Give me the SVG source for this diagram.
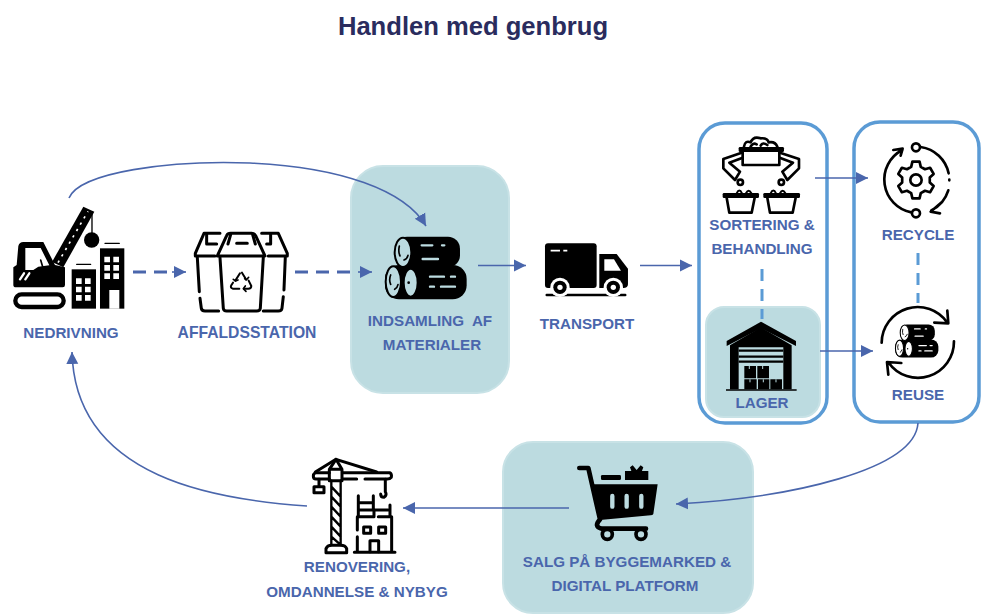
<svg xmlns="http://www.w3.org/2000/svg" width="985" height="616" viewBox="0 0 985 616">
<style>
text{font-family:"Liberation Sans",Arial,sans-serif;font-weight:700}
.t{font-size:15.200px;fill:#4a66ac;text-anchor:middle;white-space:pre}
.panel{fill:#bcdbe0;stroke:#c8e2e6;stroke-width:2}
.frame{fill:#fff;stroke:#5b9bd5;stroke-width:3.5}
.c{fill:none;stroke:#4a66ac;stroke-width:1.600}
.d{fill:none;stroke:#4a66ac;stroke-width:2.800;stroke-dasharray:13 8}
.l{fill:none;stroke:#5b9bd5;stroke-width:3;stroke-dasharray:12 8}
.ink{fill:none;stroke:#000;stroke-linecap:round;stroke-linejoin:round}
.k{fill:#000}
.w{fill:#fff}
.b{fill:#bcdbe0}
</style>
<defs>
<marker id="ah" markerUnits="userSpaceOnUse" markerWidth="13" markerHeight="14" refX="12" refY="7" orient="auto"><path d="M0,1L12,7L0,13Z" fill="#4a66ac"/></marker>
<!-- stacked timber, drawn around its own 0,0 -->
<g id="logs">
<rect x="165" y="230" width="195" height="92" rx="36" class="k"/>
<rect x="135" y="315" width="245" height="103" rx="42" class="k"/>
<ellipse cx="189" cy="277" rx="25" ry="44" fill="var(--hole)" stroke="#000" stroke-width="6"/>
<ellipse cx="160" cy="365" rx="23" ry="46" fill="var(--hole)" stroke="#000" stroke-width="6"/>
<ellipse cx="212" cy="368" rx="21" ry="42" fill="var(--hole)" stroke="#000" stroke-width="6"/>
<path d="M178,258q-4,18 2,30M192,300q10,-4 12,-14M152,345q-6,14 0,28M164,388q8,-4 10,-14" class="ink" stroke-width="5"/>
<circle cx="206" cy="368" r="4" class="k"/>
<g fill="none" stroke="var(--hole)" stroke-width="7" stroke-linecap="round">
<path d="M245,256h32M306,256h7M248,297h46M270,350h42M333,350h12M270,380h12M303,380h42"/>
</g>
</g>
</defs>

<text x="473" y="35" text-anchor="middle" font-size="25.600" fill="#2a2c5e">Handlen med genbrug</text>

<rect id="panel-indsamling" class="panel" x="351" y="166" width="158" height="227" rx="32"/>
<rect id="panel-salg" class="panel" x="503" y="442" width="250" height="171" rx="30"/>
<rect id="frame-sortering" class="frame" x="699" y="123" width="128" height="300" rx="26"/>
<rect id="frame-genbrug" class="frame" x="854" y="122" width="125" height="300" rx="26"/>
<rect id="panel-lager" class="panel" x="706" y="307" width="114" height="110" rx="18"/>

<g id="connectors">
<path class="c" marker-end="url(#ah)" d="M69,198C80,172 170,160 250,163C340,167 405,190 426,226"/>
<path class="d" d="M133,272H172"/><path class="c" marker-end="url(#ah)" d="M172,272H186"/>
<path class="d" d="M295,272H358"/><path class="c" marker-end="url(#ah)" d="M358,272H372"/>
<path class="c" marker-end="url(#ah)" d="M478,265.500H526"/>
<path class="c" marker-end="url(#ah)" d="M640,265.500H692"/>
<path class="c" marker-end="url(#ah)" d="M815,178H868"/>
<path class="c" marker-end="url(#ah)" d="M820,351H873"/>
<path class="l" d="M762,269V319"/>
<path class="l" d="M918,253V303"/>
<path class="c" marker-end="url(#ah)" d="M918,423C915,470 790,498 676,504"/>
<path class="c" marker-end="url(#ah)" d="M569,508H403"/>
<path class="c" marker-end="url(#ah)" d="M307,506C220,500 75,480 72,352"/>
</g>

<g id="nedrivning">
<g transform="translate(0,170) scale(.3333)">
<path class="k" d="M40,292L50,285L55,228Q58,216 70,216H130L165,285L195,292V345Q195,352 188,352H48Q40,352 40,345Z"/>
<path class="w" d="M76,234H122L148,286L115,290L100,300H76Z"/>
<path d="M122,270L128,290L148,296" class="ink" stroke-width="5"/>
<path d="M60,328L72,310M76,328L88,310" fill="none" stroke="#fff" stroke-width="7" stroke-linecap="round"/>
<rect x="46" y="373" width="145" height="38" rx="19" class="ink" stroke-width="13"/>
<path class="k" d="M156,276L250,110L283,125L190,292Z"/>
<path d="M174,278L264,124" fill="none" stroke="#fff" stroke-width="5" stroke-dasharray="7 15"/>
<path d="M276,125V195" class="ink" stroke-width="4"/>
<circle cx="275" cy="210" r="23" class="k"/>
<path d="M230,283H272M315,220H358" class="ink" stroke-width="4"/>
<rect x="215" y="298" width="73" height="118" class="k"/>
<rect x="300" y="235" width="73" height="181" class="k"/>
<path class="w" d="M228,325h17v17h-17zM255,325h17v17h-17zM228,350h17v17h-17zM255,350h17v17h-17zM228,375h17v17h-17zM255,375h17v17h-17zM313,260h17v17h-17zM340,260h17v17h-17zM313,285h17v17h-17zM340,285h17v17h-17zM313,310h17v17h-17zM340,310h17v17h-17zM328,360h30v56h-30z"/>
</g>
<text class="t" x="71" y="338">NEDRIVNING</text>
</g>

<g id="affaldsstation">
<g transform="translate(0,170) scale(.3333)" class="ink" stroke-width="9">
<path d="M652,258L680,197Q683,190 692,190H755Q763,190 767,197L795,258Z" fill="#fff"/>
<path d="M684,222L692,194M766,222L758,194M710,220H742"/>
<path d="M660,262L670,415Q671,423 680,423H770Q780,423 781,415L790,262"/>
<path d="M660,190H612L586,250V258H645M620,190V222H650"/>
<path d="M592,262L598,365M600,385L604,415Q605,423 615,423H656"/>
<path d="M785,190H835L862,250V258H805M812,190V222H800"/>
<path d="M856,262L852,360M850,380L846,415Q845,423 835,423H790"/>
<path d="M720,310L706,332M726,308L738,328M746,332L754,348Q754,356 745,356H732M718,356H698Q690,354 694,346L699,338" stroke-width="6"/>
<path d="M700,328L707,333L714,330M734,326L739,330L746,322M736,348L730,356L738,364" stroke-width="5"/>
</g>
<text class="t" x="247" y="338" style="font-size:15.700px">AFFALDSSTATION</text>
</g>

<g id="indsamling" style="--hole:#bcdbe0">
<use href="#logs" transform="translate(340,160) scale(.3333)"/>
<text class="t" x="430" y="326">INDSAMLING  AF</text>
<text class="t" x="432" y="350">MATERIALER</text>
</g>

<g id="transport">
<g transform="translate(340,160) scale(.3333)">
<rect x="615" y="250" width="155" height="134" rx="9" class="k"/>
<path class="k" d="M778,282H830L864,326V372Q864,384 850,384H778Z"/>
<path class="w" d="M793,298H822L843,332H793Z"/>
<path d="M632,272H660M670,272H682" stroke="#fff" stroke-width="5" fill="none"/>
<path d="M620,405H856" stroke="#000" stroke-width="7" stroke-linecap="round"/>
<circle cx="660" cy="382" r="29" class="w"/><circle cx="660" cy="382" r="20" class="k"/><circle cx="660" cy="382" r="8" class="w"/>
<circle cx="820" cy="382" r="29" class="w"/><circle cx="820" cy="382" r="20" class="k"/><circle cx="820" cy="382" r="8" class="w"/>
</g>
<text class="t" x="587" y="329">TRANSPORT</text>
</g>

<g id="sortering">
<g transform="translate(690,115) scale(.3333)" class="ink" stroke-width="8">
<path d="M150,100H278V107H150Z" fill="#000"/>
<path d="M158,108V150H268V108"/>
<path d="M162,95Q165,75 182,82Q190,62 212,70Q232,68 236,82Q255,78 262,95"/>
<path d="M182,95Q188,82 200,88M212,92Q218,80 232,90"/>
<path d="M155,113L100,132V160L135,195L150,170L118,143L158,128"/>
<path d="M270,113L327,132V160L292,195L277,170L309,143L269,128"/>
<circle cx="151" cy="202" r="8"/><circle cx="274" cy="202" r="8"/>
<path d="M102,238H203V245H102Z" fill="#000"/><path d="M224,238H326V245H224Z" fill="#000"/>
<path d="M110,248L118,293H185L194,248M232,248L240,293H308L317,248"/>
<path d="M140,235Q148,218 156,235M168,235Q176,220 184,235M242,235Q250,218 258,235M270,235Q278,220 286,235" stroke-width="6"/>
</g>
<text class="t" x="762" y="230">SORTERING &amp;</text>
<text class="t" x="762" y="254">BEHANDLING</text>
</g>

<g id="recycle">
<g transform="translate(690,115) scale(.3333)" class="ink" stroke-width="8">
<path d="M663.600,155.500L667.300,140H688.700L692.400,155.500L705,162.800L720.300,158.300L731,176.800L719.400,187.700V202.300L731,213.200L720.300,231.700L705,227.200L692.400,234.500L688.700,250H667.300L663.600,234.500L651,227.200L635.700,231.700L625,213.200L636.600,202.300V187.700L625,176.800L635.700,158.300L651,162.800Z"/>
<circle cx="678" cy="195" r="17"/>
<circle cx="678" cy="97" r="12"/><circle cx="678" cy="295" r="12"/>
<path d="M692,96A100,100 0 0 1 776,175M778,196V194M775,226A100,100 0 0 1 724,286M755,262L722,290L750,295"/>
<path d="M664,292A100,100 0 0 1 637,105M610,105L638,101L632,122"/>
</g>
<text class="t" x="918" y="240">RECYCLE</text>
</g>

<g id="lager">
<g transform="translate(690,270) scale(.3333)">
<path class="k" d="M120,226L213,172L305,226V358H120Z"/>
<path class="k" d="M110,213L213,155L318,213V228L213,175L110,228Z"/>
<path class="b" d="M146,232H280V358H146Z"/>
<path d="M146,242H280M146,260H280M146,275H280" stroke="#000" stroke-width="7"/>
<path class="k" d="M163,288H198V325H163ZM202,288H237V325H202ZM163,328H200V358H163ZM204,328H238V358H204ZM241,328H276V358H241Z"/>
<path d="M178,288v9M218,288v9M180,328v9M220,328v9M258,328v9" stroke="#bcdbe0" stroke-width="3"/>
<path d="M108,360H320" stroke="#000" stroke-width="5"/>
</g>
<text class="t" x="762" y="408">LAGER</text>
</g>

<g id="reuse" style="--hole:#fff">
<g transform="translate(690,270) scale(.3333)" class="ink" stroke-width="8">
<path d="M575,218A108,108 0 0 1 772,158M772,122L775,160L733,158"/>
<path d="M792,214A108,108 0 0 1 596,278M595,314L591,276L634,279"/>
</g>
<use href="#logs" transform="translate(690,270) scale(.3333) translate(680,213) scale(.53) translate(-257,-324)"/>
<text class="t" x="918" y="400">REUSE</text>
</g>

<g id="salg">
<g transform="translate(500,440) scale(.3333)">
<path class="ink" d="M238,84H265L300,238Q280,260 305,266H438" stroke-width="14"/>
<path class="k" d="M280,133H473L460,222Q458,226 452,226L300,240Z"/>
<path d="M337,168V200M380,168V200M424,168V200" stroke="#bcdbe0" stroke-width="13" stroke-linecap="round"/>
<circle cx="322" cy="283" r="15" fill="#bcdbe0" stroke="#000" stroke-width="11"/>
<circle cx="423" cy="283" r="15" fill="#bcdbe0" stroke="#000" stroke-width="11"/>
<rect x="303" y="105" width="60" height="15" rx="4" class="k"/>
<path class="k" d="M375,93H445V120H375ZM390,82L398,76L410,90L422,76L430,82L425,95H395Z"/>
</g>
<text class="t" x="627" y="567">SALG PÅ BYGGEMARKED &amp;</text>
<text class="t" x="625" y="591">DIGITAL PLATFORM</text>
</g>

<g id="renovering">
<g transform="translate(250,450) scale(.3333)" class="ink" stroke-width="9">
<path d="M238,68H198Q190,70 190,78Q190,87 198,87H238M278,68H420Q426,72 424,82Q420,87 412,87H345M278,87H320"/>
<path d="M238,58L258,28L276,58H238ZM238,60V92H276V60"/>
<path d="M196,66L258,28L380,66"/>
<path d="M207,88V108M192,110H222V128H192Z"/>
<path d="M406,88V125Q412,135 402,142Q392,142 392,132"/>
<path d="M244,92V285M272,92V285M244,110L272,140M244,140L272,170M244,170L272,200M244,200L272,230M244,230L272,260M244,260L272,285" stroke-width="7"/>
<path d="M228,308V296Q232,286 245,286H272Q286,286 290,296V308Z"/>
<path d="M313,307H435M322,260V305M322,240V200H372M372,200V180M385,200H425V305M420,200V165"/>
<path d="M325,137V200M370,137V180M325,158H370M325,180H415"/>
<path d="M341,231H362V250H341ZM386,231H407V250H386ZM360,305V272H386V305"/>
</g>
<text class="t" x="357" y="572">RENOVERING,</text>
<text class="t" x="357" y="597">OMDANNELSE &amp; NYBYG</text>
</g>
</svg>
